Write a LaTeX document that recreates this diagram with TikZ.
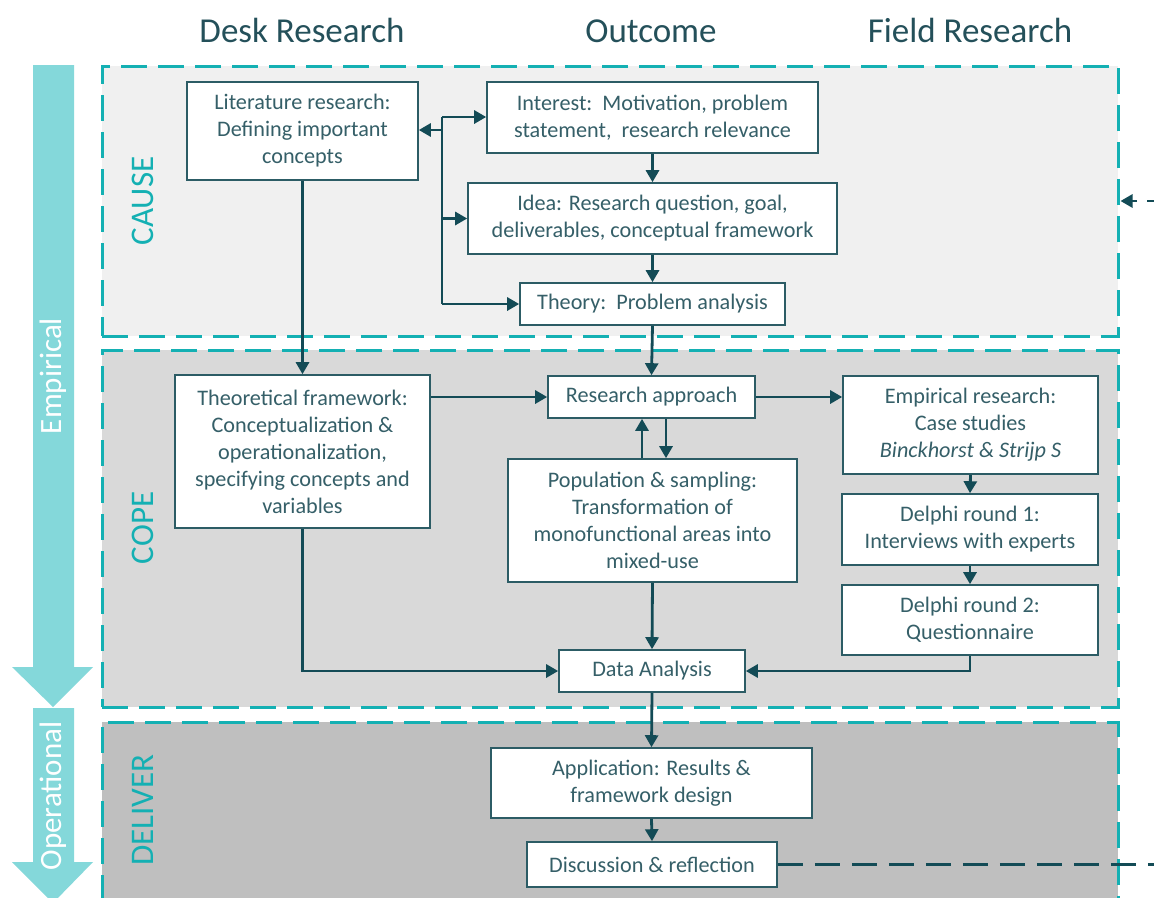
\documentclass[tikz,border=0pt]{standalone}
\usepackage{fontspec}
\setmainfont{Carlito}
\usetikzlibrary{arrows.meta,calc}
\definecolor{ink}{HTML}{134B56}
\definecolor{boxline}{HTML}{2C5C65}
\definecolor{txt}{HTML}{355F68}
\definecolor{hdrtxt}{HTML}{24505A}
\definecolor{frameteal}{HTML}{14B0B3}
\definecolor{bandteal}{HTML}{84D8DA}
\definecolor{causebg}{HTML}{F0F0F0}
\definecolor{copebg}{HTML}{D9D9D9}
\definecolor{deliverbg}{HTML}{BFBFBF}
\tikzset{
  stagebox/.style={draw=frameteal, line width=3pt, dash pattern=on 26pt off 11pt, inner sep=0pt},
  stagelabel/.style={rotate=90, text=frameteal, font=\fontsize{33}{38}\selectfont},
  stepbox/.style={draw=boxline, line width=1.6pt, fill=white, inner sep=0pt, align=center,
    text=txt, font=\fontsize{22.2}{27}\selectfont},
  header/.style={text=hdrtxt, font=\fontsize{35}{40}\selectfont},
  link/.style={draw=ink, line width=2.8pt},
  arr/.style={link, -{Triangle[length=12pt,width=13pt]}},
  dashlink/.style={draw=ink, line width=2.8pt, dash pattern=on 25pt off 12pt},
}
\begin{document}
\begin{tikzpicture}[x=1pt,y=-1pt]
\useasboundingbox (0,0) rectangle (1154,897);
\clip (0,0) rectangle (1154,897);
\fill[white] (0,0) rectangle (1154,897);

% column headers
\node[header] (hdesk) at (302,30) {Desk Research};
\node[header] (hout) at (651,31) {Outcome};
\node[header] (hfield) at (970,30) {Field Research};

% phase band on the left
\fill[bandteal] (33,65) -- (74,65) -- (74,667) -- (93,667) -- (53,707) -- (12,667) -- (33,667) -- cycle;
\fill[bandteal] (33,708) -- (74,708) -- (74,862) -- (93,862) -- (53,903) -- (12,862) -- (33,862) -- cycle;
\node[rotate=90, text=white, font=\fontsize{31}{36}\selectfont] (emp) at (53,376) {Empirical};
\node[rotate=90, text=white, font=\fontsize{31}{36}\selectfont] (oper) at (53,796) {Operational};

% stage frames
\node[stagebox, fill=causebg, minimum width=1016pt, minimum height=270pt] (cause) at (610,201) {};
\node[stagebox, fill=copebg, minimum width=1016pt, minimum height=357pt] (cope) at (610,528.5) {};
\node[stagebox, fill=deliverbg, minimum width=1016pt, minimum height=220pt] (deliver) at (610,832) {};
\node[stagelabel] (lcause) at (143,201) {CAUSE};
\node[stagelabel] (lcope) at (143,528) {COPE};
\node[stagelabel] (ldeliver) at (143,810) {DELIVER};

% steps
\node[stepbox, minimum width=231pt, minimum height=98pt] (lit) at (302.5,131) {Literature research:\\Defining important\\concepts};
\node[stepbox, minimum width=331pt, minimum height=71pt] (interest) at (652.5,117.5) {Interest:\ \ Motivation, problem\\statement,\ \ research relevance};
\node[stepbox, minimum width=369pt, minimum height=71pt] (idea) at (652.5,218.5) {Idea: Research question, goal,\\deliverables, conceptual framework};
\node[stepbox, minimum width=265pt, minimum height=42pt] (theory) at (652.5,304) {Theory:\ \ Problem analysis};
\node[stepbox, minimum width=255pt, minimum height=153pt] (tf) at (302.5,451.5) {Theoretical framework:\\Conceptualization \&\\operationalization,\\specifying concepts and\\variables};
\node[stepbox, minimum width=207pt, minimum height=42pt] (ra) at (651.5,397) {Research approach};
\node[stepbox, minimum width=289pt, minimum height=123pt] (pop) at (652.5,520.5) {Population \& sampling:\\Transformation of\\monofunctional areas into\\mixed-use};
\node[stepbox, minimum width=255pt, minimum height=98pt] (er) at (970.5,425) {Empirical research:\\Case studies\\{\itshape Binckhorst \& Strijp S}};
\node[stepbox, minimum width=256pt, minimum height=71pt] (d1) at (970,529.5) {Delphi round 1:\\Interviews with experts};
\node[stepbox, minimum width=256pt, minimum height=70pt] (d2) at (970,620) {Delphi round 2:\\Questionnaire};
\node[stepbox, minimum width=186pt, minimum height=42pt] (da) at (652,671) {Data Analysis};
\node[stepbox, minimum width=321pt, minimum height=70pt] (app) at (651.5,783) {Application: Results \&\\framework design};
\node[stepbox, minimum width=250pt, minimum height=45pt] (disc) at (652,864.5) {Discussion \& reflection};

% literature bus in the CAUSE stage
\coordinate (busT) at (442,117);
\coordinate (busL) at (442,130);
\coordinate (busB) at (442,304);
\draw[link] (busT) -- (busB);
\draw[arr] (busL) -- (busL -| lit.east);
\draw[arr] (busT) -- (busT -| interest.west);
\draw[arr] (busT |- idea.west) -- (idea.west);
\draw[arr] (busB) -- (theory.west);

% main flow
\draw[arr] (interest.south) -- (idea.north);
\draw[arr] (idea.south) -- (theory.north);
\draw[arr] (theory.south) -- (ra.north);
\draw[arr] (lit.south) -- (tf.north);
\draw[arr] (ra.west -| tf.east) -- (ra.west);
\draw[arr] (ra.east) -- (ra.east -| er.west);
\draw[arr] ([xshift=-10.5pt]pop.north) -- ([xshift=-10.5pt]pop.north |- ra.south);
\draw[arr] ([xshift=13.5pt]pop.north |- ra.south) -- ([xshift=13.5pt]pop.north);
\draw[arr] (er.south) -- (d1.north);
\draw[arr] (d1.south) -- (d2.north);
\draw[arr] (d2.south) |- (da.east);
\draw[arr] (tf.south) |- (da.west);
\draw[arr] (pop.south) -- (da.north);
\draw[arr] (da.south) -- (app.north);
\draw[arr] (app.south) -- (disc.north);

% feedback loop back to the CAUSE stage
\coordinate (loopout) at (1165,864.5);
\coordinate (loopin) at (1172,201);
\coordinate (loopend) at (1147,201);
\coordinate (looptip) at (1137,201);
\draw[dashlink] (disc.east) -- (loopout);
\draw[dashlink] (loopin) -- (loopend);
\draw[arr] (looptip) -- ([xshift=1pt]cause.east);
\end{tikzpicture}
\end{document}
